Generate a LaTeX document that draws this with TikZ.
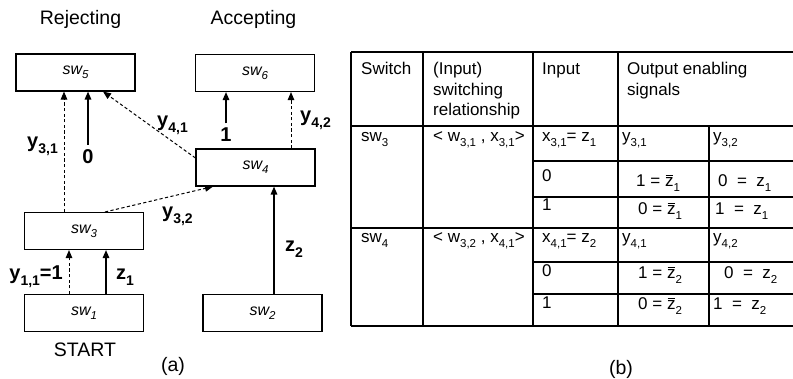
\documentclass[tikz,border=0pt]{standalone}
\usepackage{fontspec}
\setmainfont{Liberation Sans}
\usetikzlibrary{arrows.meta}

% lowered small indices
\newcommand\lo[1]{\raisebox{-0.28em}{\fontsize{11.5}{11.5}\selectfont #1}}
\newcommand\swsub[1]{sw\raisebox{-0.25em}{\fontsize{11.5}{11.5}\selectfont #1}}
\newcommand\bl[1]{\raisebox{-0.3em}{\fontsize{14}{14}\selectfont\bfseries #1}}
% z with a bar over it
\newcommand\zbar{\leavevmode\rlap{\hspace{0.03em}\raisebox{0.66em}{\rule{0.44em}{0.065em}}}z}

\begin{document}
\begin{tikzpicture}[x=1pt,y=-1pt,
  swbox/.style={draw, line width=1.1pt, minimum width=119pt, minimum height=37pt,
    inner sep=0pt, font=\fontsize{16}{16}\selectfont\itshape},
  arrS/.style={line width=1.5pt, -{Triangle[length=8pt,width=6.5pt]}},
  arrD/.style={line width=1pt, dash pattern=on 3.2pt off 2.4pt,
    -{Triangle[length=8pt,width=6.5pt]}},
  lab/.style={font=\fontsize{20}{20}\selectfont\bfseries, inner sep=0pt},
  title/.style={font=\fontsize{19.5}{20}\selectfont, anchor=base, inner sep=0pt},
  cell/.style={font=\fontsize{17}{17}\selectfont, anchor=base west, inner sep=0pt},
  grid/.style={line width=1.5pt}]

\clip (0,0) rectangle (793,379);
\fill[white] (0,0) rectangle (793,379);

% ---------- (a) switch network ----------
\node[title] (rej) at (80.5,25) {Rejecting};
\node[title] (acc) at (253.5,25) {Accepting};

\node[swbox] (sw5) at (75.5,72.5) {\swsub{5}};
\node[swbox] (sw6) at (255,73) {\swsub{6}};
\node[swbox] (sw4) at (255.5,167.5) {\swsub{4}};
\node[swbox] (sw3) at (84,231) {\swsub{3}};
\node[swbox] (sw1) at (84,313) {\swsub{1}};
\node[swbox] (sw2) at (262.5,313) {\swsub{2}};

\node[title] (start) at (85,357) {START};
\node[title] (capa) at (173,372) {(a)};

% constant inputs
\node[lab, anchor=north] (k0) at (88,149) {0};
\node[lab, anchor=north] (k1) at (226,127.5) {1};

% connectors
\draw[arrD] ([xshift=-15pt]sw1.north) -- ([xshift=-15pt]sw1.north |- sw3.south);
\draw[arrS] ([xshift=22pt]sw1.north) -- ([xshift=22pt]sw1.north |- sw3.south);
\draw[arrD] ([xshift=-20pt]sw3.north) -- ([xshift=-20pt]sw3.north |- sw5.south);
\draw[arrS, shorten <=4pt] (k0.north) -- (k0.north |- sw5.south);
\draw[arrD] ([yshift=9.5pt]sw4.west) -- ([xshift=27.5pt]sw5.south);
\draw[arrD] ([xshift=21pt]sw3.north) -- ([xshift=-42.5pt]sw4.south);
\draw[arrS] ([xshift=11.5pt]sw2.north) -- ([xshift=11.5pt]sw2.north |- sw4.south);
\draw[arrS, shorten <=4pt] (k1.north) -- (k1.north |- sw6.south);
\draw[arrD] ([xshift=35.5pt]sw4.north) -- ([xshift=35.5pt]sw4.north |- sw6.south);

% connector labels
\node[lab, anchor=base east] (l11) at (63,280) {y\bl{1,1}=1};
\node[lab, anchor=base west] (lz1) at (116,280) {z\bl{1}};
\node[lab, anchor=base east] (l31) at (58,148) {y\bl{3,1}};
\node[lab, anchor=base west] (l41) at (157,127) {y\bl{4,1}};
\node[lab, anchor=base west] (l42) at (300,122) {y\bl{4,2}};
\node[lab, anchor=base west] (l32) at (162,218) {y\bl{3,2}};
\node[lab, anchor=base west] (lz2) at (285,252) {z\bl{2}};

% ---------- (b) table ----------
\draw[grid] (351,52) -- (800,52);
\draw[grid] (351,126) -- (800,126);
\draw[grid] (351,228) -- (800,228);
\draw[grid] (351,326) -- (800,326);
\draw[grid] (533,161) -- (800,161);
\draw[grid] (533,197) -- (800,197);
\draw[grid] (533,262) -- (800,262);
\draw[grid] (533,294) -- (800,294);
\draw[grid] (351,52) -- (351,326);
\draw[grid] (423,52) -- (423,326);
\draw[grid] (533,52) -- (533,326);
\draw[grid] (618,52) -- (618,326);
\draw[grid] (709,126) -- (709,326);

% header
\node[cell] (h1) at (361,75) {Switch};
\node[cell] (h2a) at (433,75) {(Input)};
\node[cell] (h2b) at (433,95.5) {switching};
\node[cell] (h2c) at (433,116) {relationship};
\node[cell] (h3) at (542,75) {Input};
\node[cell] (h4a) at (627,75) {Output enabling};
\node[cell] (h4b) at (627,95.5) {signals};

% sw3 rows
\node[cell] (a1) at (361,142) {sw\lo{3}};
\node[cell] (a2) at (433,142) {< w\lo{3,1} , x\lo{3,1}>};
\node[cell] (a3) at (542,142) {x\lo{3,1}= z\lo{1}};
\node[cell] (a4) at (622,142) {y\lo{3,1}};
\node[cell] (a5) at (713,142) {y\lo{3,2}};
\node[cell] (b3) at (542,182) {0};
\node[cell] (b4) at (636,187) {1 = \zbar\lo{1}};
\node[cell] (b5) at (718,187) {0 \ = \ z\lo{1}};
\node[cell] (c3) at (542,211) {1};
\node[cell] (c4) at (638,215) {0 = \zbar\lo{1}};
\node[cell] (c5) at (715,215) {1 \ = \ z\lo{1}};

% sw4 rows
\node[cell] (d1) at (361,243) {sw\lo{4}};
\node[cell] (d2) at (433,243) {< w\lo{3,2} , x\lo{4,1}>};
\node[cell] (d3) at (542,243) {x\lo{4,1}= z\lo{2}};
\node[cell] (d4) at (622,243) {y\lo{4,1}};
\node[cell] (d5) at (713,243) {y\lo{4,2}};
\node[cell] (e3) at (542,277) {0};
\node[cell] (e4) at (638,279) {1 = \zbar\lo{2}};
\node[cell] (e5) at (724,279) {0 \ = \ z\lo{2}};
\node[cell] (f3) at (542,309) {1};
\node[cell] (f4) at (638,310) {0 = \zbar\lo{2}};
\node[cell] (f5) at (713,310) {1 \ = \ z\lo{2}};

\node[title] (capb) at (621,374) {(b)};
\end{tikzpicture}
\end{document}
